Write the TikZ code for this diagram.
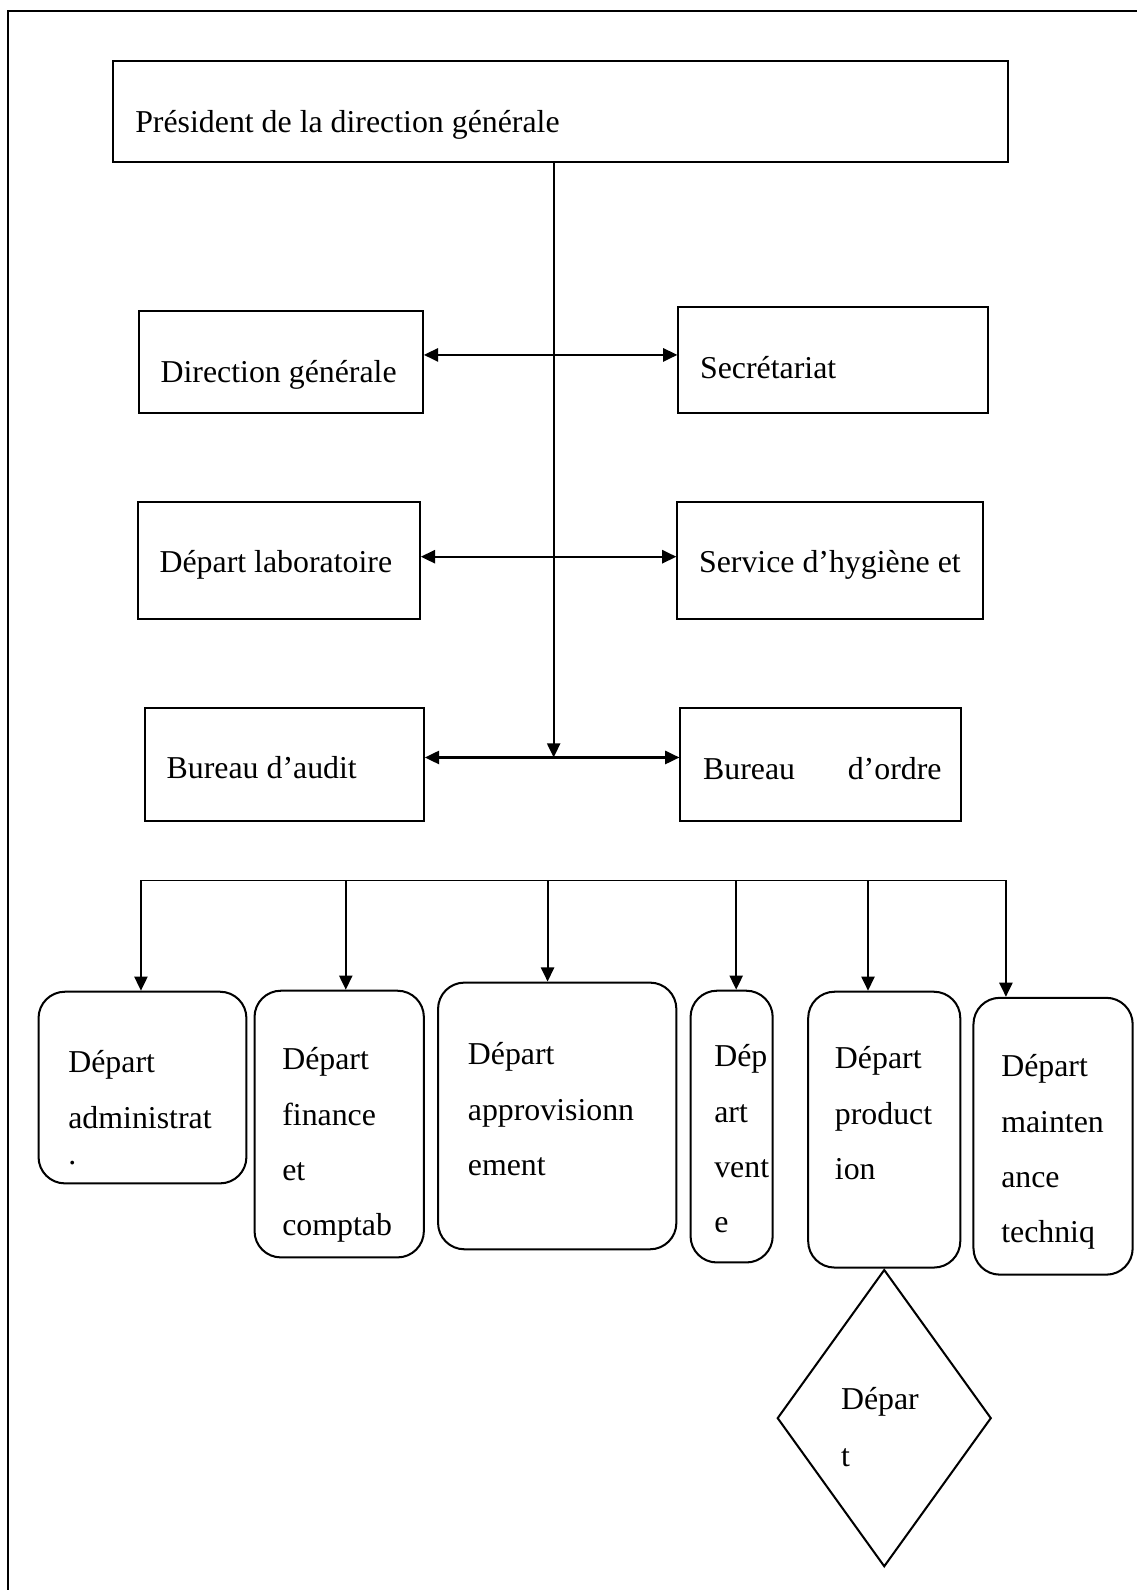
\documentclass[tikz,border=0pt]{standalone}
\usepackage{fontspec}
\setmainfont{Liberation Serif}
\usetikzlibrary{arrows.meta,shapes.geometric,fit}
\begin{document}
\begin{tikzpicture}[x=0.5pt,y=-0.5pt,
  box/.style={draw,line width=1pt,inner sep=0pt},
  rbox/.style={box,rounded corners=13pt},
  lbl/.style={anchor=base west,inner sep=0pt,align=left,
    font=\fontsize{15.7}{27.25}\selectfont},
  link/.style={line width=1pt,-{Triangle[length=7pt,width=6.5pt]}},
  link2/.style={line width=1pt,
    {Triangle[length=7pt,width=6.5pt]}-{Triangle[length=7pt,width=6.5pt]}}]

\useasboundingbox (0,0) rectangle (1121,1568);

% page frame (left and top rules)
\draw[line width=1pt] (7.9,1568) -- (7.9,10.8) -- (1121,10.8);

% head of the organisation
\node[box,fit={(111,60) (994,160)}] (pres) {};
\node[lbl] (tpres) at (133,131) {Président de la direction générale};

% staff units on either side of the trunk
\node[box,fit={(137,307) (417,407)}] (dg) {};
\node[lbl] (tdg) at (158,377) {Direction générale};
\node[box,fit={(669,303) (974,407)}] (sec) {};
\node[lbl] (tsec) at (690,373) {Secrétariat};

\node[box,fit={(136,495) (414,610)}] (lab) {};
\node[lbl] (tlab) at (157,565) {Départ laboratoire};
\node[box,fit={(668,495) (969,610)}] (hyg) {};
\node[lbl] (thyg) at (689,565) {Service d’hygiène et};

\node[box,fit={(143,698) (418,810)}] (aud) {};
\node[lbl] (taud) at (164,768) {Bureau d’audit};
\node[box,fit={(671,698) (948,810)}] (ord) {};
\node[lbl] (tord) at (693,769) {Bureau\hspace{26pt}d’ordre};

% trunk and side links
\coordinate (r1) at (546,350);
\coordinate (r2) at (546,549);
\coordinate (hub) at (546,747);
\draw[link] (pres.south -| hub) -- (hub);
\draw[link2] (dg.east |- r1) -- (sec.west |- r1);
\draw[link2] (lab.east |- r2) -- (hyg.west |- r2);
\draw[link2] (aud.east |- hub) -- (ord.west |- hub);

% operational departments (label anchors sit on the last line's baseline)
\node[rbox,fit={(38,978) (243,1167)}] (b1) {};
\node[lbl] (tb1) at (67,1148.6) {Départ\\administrat\\[-9.2pt].};
\node[rbox,fit={(251,977) (418,1240)}] (b2) {};
\node[lbl] (tb2) at (278,1218.5) {Départ\\finance\\et\\comptab};
\node[rbox,fit={(432,969) (667,1232)}] (b3) {};
\node[lbl] (tb3) at (461,1159) {Départ\\approvisionn\\ement};
\node[rbox,fit={(681,977) (762,1245)}] (b4) {};
\node[lbl] (tb4) at (704,1215.5) {Dép\\art\\vent\\e};
\node[rbox,fit={(797,978) (947,1250)}] (b5) {};
\node[lbl] (tb5) at (823,1163) {Départ\\product\\ion};
\node[rbox,fit={(960,984) (1117,1257)}] (b6) {};
\node[lbl] (tb6) at (987,1225.5) {Départ\\mainten\\ance\\techniq};

% sub-unit below production
\node[diamond,draw,line width=1pt,inner sep=0pt,
  minimum width=105.5pt,minimum height=146.5pt] (dia) at (872,1398.5) {};
\node[lbl] (tdia) at (829,1446) {Dépar\\[0.8pt]t};

% distribution bus and drops
\coordinate (d1) at (139,868);
\coordinate (d2) at (341,868);
\coordinate (d3) at (540,868);
\coordinate (d4) at (726,868);
\coordinate (d5) at (856,868);
\coordinate (d6) at (992,868);
\draw[line width=0.6pt] (d1) -- ([xshift=0.5pt]d6);
\draw[link] (d1) -- (d1 |- b1.north);
\draw[link] (d2) -- (d2 |- b2.north);
\draw[link] (d3) -- (d3 |- b3.north);
\draw[link] (d4) -- (d4 |- b4.north);
\draw[link] (d5) -- (d5 |- b5.north);
\draw[link] (d6) -- (d6 |- b6.north);
\end{tikzpicture}
\end{document}
